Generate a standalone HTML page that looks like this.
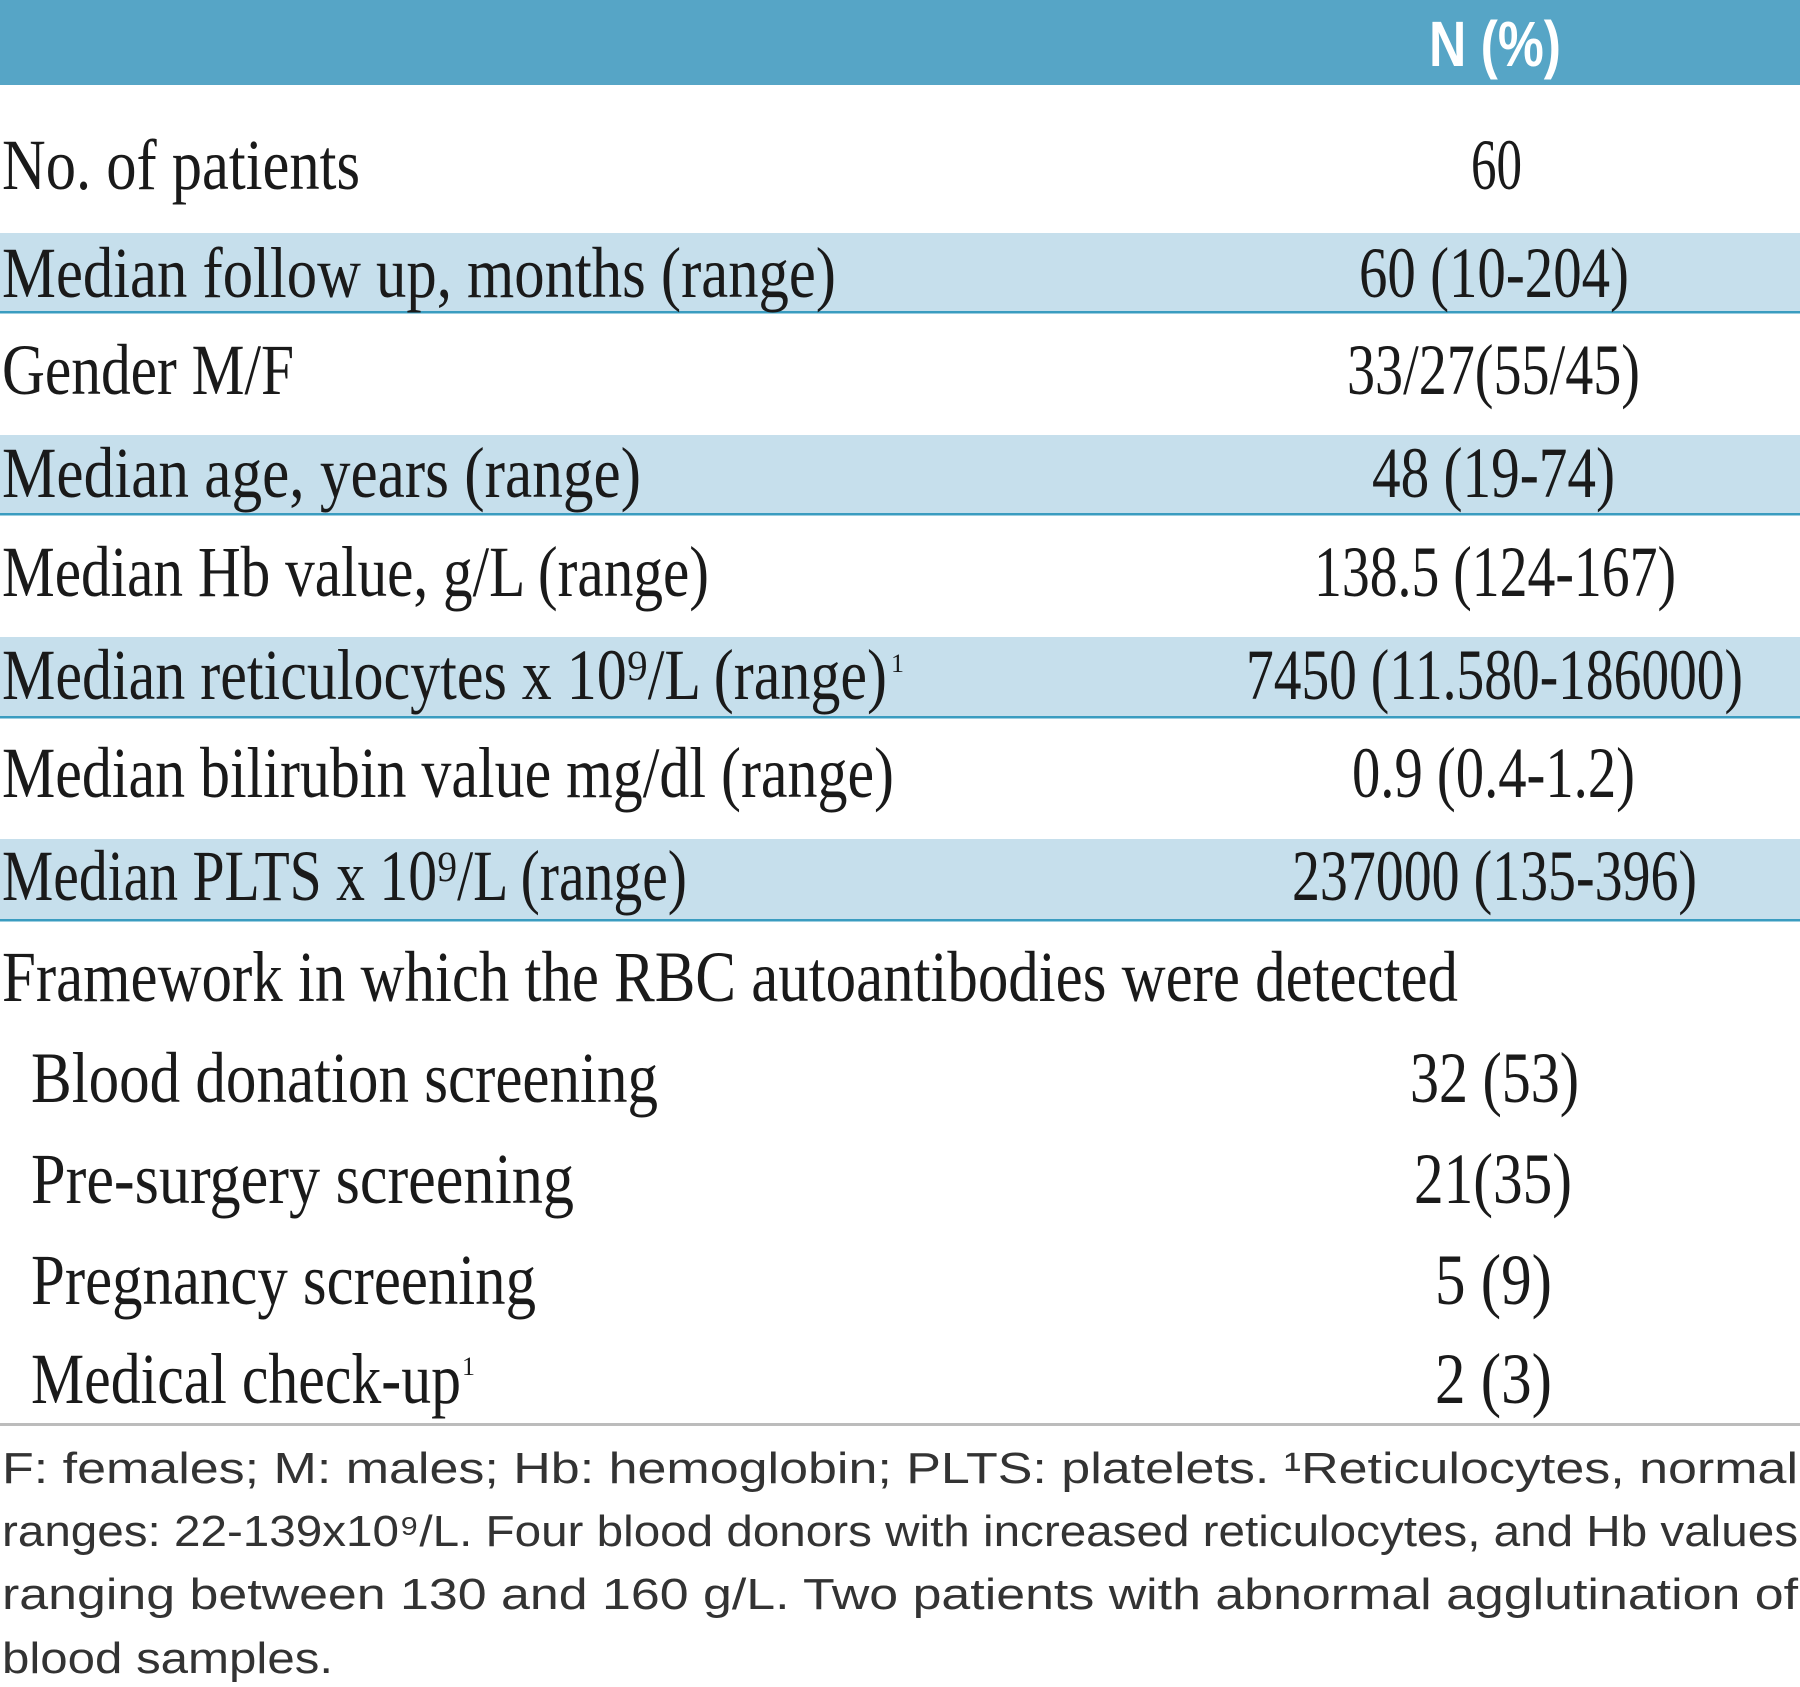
<!DOCTYPE html>
<html><head><meta charset="utf-8"><style>html,body{margin:0;padding:0;background:#fff}svg{display:block}</style></head>
<body>
<svg width="1800" height="1687" viewBox="0 0 1800 1687" xmlns="http://www.w3.org/2000/svg" font-family="Liberation Serif, serif" fill="#1a1a1a">
<rect x="0" y="0" width="1800" height="85" fill="#56a5c6"/>
<text x="1429" y="66" font-size="64" font-weight="bold" font-family="Liberation Sans, sans-serif" fill="#fff" textLength="132" lengthAdjust="spacingAndGlyphs">N (%)</text>
<rect x="0" y="233" width="1800" height="79" fill="#c6dfec"/>
<rect x="0" y="435" width="1800" height="79" fill="#c6dfec"/>
<rect x="0" y="637" width="1800" height="80" fill="#c6dfec"/>
<rect x="0" y="839" width="1800" height="81" fill="#c6dfec"/>
<rect x="0" y="311" width="1800" height="2.5" fill="#3a9cc0"/>
<rect x="0" y="513" width="1800" height="2.5" fill="#3a9cc0"/>
<rect x="0" y="716" width="1800" height="2.5" fill="#3a9cc0"/>
<rect x="0" y="919" width="1800" height="2.5" fill="#3a9cc0"/>
<rect x="0" y="1423" width="1800" height="3" fill="#bcbcbc"/>
<g font-size="72">
<text x="2" y="189" textLength="358" lengthAdjust="spacingAndGlyphs">No. of patients</text>
<text x="2" y="297" textLength="834" lengthAdjust="spacingAndGlyphs">Median follow up, months (range)</text>
<text x="2" y="394" textLength="292" lengthAdjust="spacingAndGlyphs">Gender M/F</text>
<text x="2" y="497" textLength="639" lengthAdjust="spacingAndGlyphs">Median age, years (range)</text>
<text x="2" y="596" textLength="707" lengthAdjust="spacingAndGlyphs">Median Hb value, g/L (range)</text>
<text x="2" y="699" textLength="885" lengthAdjust="spacingAndGlyphs">Median reticulocytes x 10⁹/L (range)</text>
<text x="891" y="672" font-size="26">1</text>
<text x="2" y="797" textLength="892" lengthAdjust="spacingAndGlyphs">Median bilirubin value mg/dl (range)</text>
<text x="2" y="900" textLength="685" lengthAdjust="spacingAndGlyphs">Median PLTS x 10⁹/L (range)</text>
<text x="2" y="1001" textLength="1456" lengthAdjust="spacingAndGlyphs">Framework in which the RBC autoantibodies were detected</text>
<text x="31" y="1102" textLength="627" lengthAdjust="spacingAndGlyphs">Blood donation screening</text>
<text x="31" y="1203" textLength="543" lengthAdjust="spacingAndGlyphs">Pre-surgery screening</text>
<text x="31" y="1304" textLength="505" lengthAdjust="spacingAndGlyphs">Pregnancy screening</text>
<text x="31" y="1403" textLength="430" lengthAdjust="spacingAndGlyphs">Medical check-up</text>
<text x="462" y="1375" font-size="26">1</text>
<text x="1471" y="189" textLength="51" lengthAdjust="spacingAndGlyphs">60</text>
<text x="1359" y="297" textLength="270" lengthAdjust="spacingAndGlyphs">60 (10-204)</text>
<text x="1347" y="394" textLength="293" lengthAdjust="spacingAndGlyphs">33/27(55/45)</text>
<text x="1372" y="497" textLength="243" lengthAdjust="spacingAndGlyphs">48 (19-74)</text>
<text x="1314" y="596" textLength="362" lengthAdjust="spacingAndGlyphs">138.5 (124-167)</text>
<text x="1246" y="699" textLength="497" lengthAdjust="spacingAndGlyphs">7450 (11.580-186000)</text>
<text x="1352" y="797" textLength="283" lengthAdjust="spacingAndGlyphs">0.9 (0.4-1.2)</text>
<text x="1292" y="900" textLength="405" lengthAdjust="spacingAndGlyphs">237000 (135-396)</text>
<text x="1410" y="1102" textLength="169" lengthAdjust="spacingAndGlyphs">32 (53)</text>
<text x="1414" y="1203" textLength="158" lengthAdjust="spacingAndGlyphs">21(35)</text>
<text x="1435" y="1304" textLength="117" lengthAdjust="spacingAndGlyphs">5 (9)</text>
<text x="1435" y="1403" textLength="117" lengthAdjust="spacingAndGlyphs">2 (3)</text>
</g>
<g font-size="44" fill="#333" font-family="Liberation Sans, sans-serif">
<text x="2" y="1483" textLength="1796" lengthAdjust="spacingAndGlyphs">F: females; M: males;  Hb: hemoglobin;  PLTS: platelets.  ¹Reticulocytes,  normal</text>
<text x="2" y="1546" textLength="1796" lengthAdjust="spacingAndGlyphs">ranges: 22-139x10⁹/L. Four blood donors with increased reticulocytes, and Hb values</text>
<text x="2" y="1609" textLength="1796" lengthAdjust="spacingAndGlyphs">ranging  between  130  and  160  g/L. Two  patients  with  abnormal  agglutination  of</text>
<text x="2" y="1673" textLength="331" lengthAdjust="spacingAndGlyphs">blood samples.</text>
</g>
</svg>
</body></html>
